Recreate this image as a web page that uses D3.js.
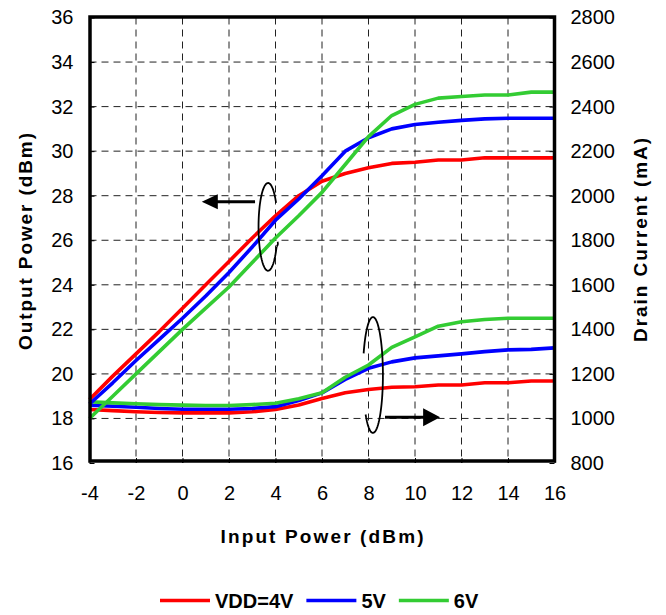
<!DOCTYPE html>
<html>
<head>
<meta charset="utf-8">
<script src="https://cdn.jsdelivr.net/npm/d3@7"></script>
<style>
  html, body { margin: 0; padding: 0; background: #fff; }
  svg { display: block; font-family: "Liberation Sans", Arial, sans-serif; }
</style>
</head>
<body>
<svg id="chart" width="666" height="615"></svg>
<script>
// ---------------- data ----------------
const inputPower = [-4,-3,-2,-1,0,1,2,3,4,5,6,7,8,9,10,11,12,13,14,15,16];

const poutVdd4 = [18.85,19.9,20.9,21.9,22.95,24.0,25.05,26.1,27.1,28.0,28.65,29.0,29.25,29.45,29.5,29.6,29.6,29.7,29.7,29.7,29.7];
const poutVdd5 = [18.65,19.6,20.6,21.55,22.5,23.5,24.55,25.7,26.9,27.85,28.9,30.0,30.6,31.0,31.2,31.3,31.38,31.45,31.48,31.48,31.48];
const poutVdd6 = [18.0,19.0,20.0,21.0,22.0,22.95,23.9,25.0,26.1,27.1,28.15,29.4,30.65,31.6,32.1,32.38,32.45,32.52,32.52,32.65,32.65];

const idVdd4 = [1040,1035,1030,1027,1025,1025,1025,1030,1040,1060,1090,1115,1130,1140,1142,1150,1150,1160,1160,1168,1168];
const idVdd5 = [1060,1055,1050,1045,1041,1041,1041,1045,1053,1080,1115,1175,1225,1254,1272,1281,1290,1300,1308,1310,1317];
const idVdd6 = [1075,1070,1066,1062,1060,1058,1058,1062,1068,1088,1115,1185,1240,1319,1366,1414,1434,1444,1450,1450,1450];

const seriesNames = ["VDD=4V","5V","6V"];
const seriesColors = ["#ff0000","#0000ff","#33cc33"];

const xTicks = [-4,-2,0,2,4,6,8,10,12,14,16];
const yLeftTicks = [16,18,20,22,24,26,28,30,32,34,36];
const yRightTicks = [800,1000,1200,1400,1600,1800,2000,2200,2400,2600,2800];

// annotation anchors (data units)
const leftEllipse = {x: 3.68, y: 26.6, rxDb: 0.41, ryDb: 1.97};      // output-power group
const leftArrow = {x1: 3.12, x2: 0.83, y: 27.73};
const rightEllipse = {x: 8.19, y: 1195, rxDb: 0.43, ryMa: 260};      // drain-current group
const rightArrow = {x1: 8.71, x2: 11.08, y: 1005};

// ---------------- layout ----------------
const svg = d3.select("#chart");
const X0 = 89.5, X1 = 554.5, Y0 = 17.5, Y1 = 463;

const x = d3.scaleLinear().domain([-4,16]).range([X0, X1]);
const yL = d3.scaleLinear().domain([16,36]).range([Y1, Y0]);
const yR = d3.scaleLinear().domain([800,2800]).range([Y1, Y0]);

// grid
const grid = svg.append("g");
grid.selectAll("line.v").data(xTicks.slice(1,-1)).enter().append("line")
  .attr("x1", d => x(d)).attr("x2", d => x(d))
  .attr("y1", Y0).attr("y2", Y1)
  .attr("stroke", "#222").attr("stroke-width", 1).attr("stroke-dasharray", "7,5");
grid.selectAll("line.h").data(yLeftTicks.slice(1,-1)).enter().append("line")
  .attr("x1", X0).attr("x2", X1)
  .attr("y1", d => yL(d)).attr("y2", d => yL(d))
  .attr("stroke", "#222").attr("stroke-width", 1).attr("stroke-dasharray", "7,5");

// axes (ticks inward, labels plain integers with ASCII hyphen)
const fmt = d => String(d);
const axL = d3.axisLeft(yL).tickValues(yLeftTicks).tickFormat(fmt).tickSize(-5).tickPadding(16);
const axR = d3.axisRight(yR).tickValues(yRightTicks).tickFormat(fmt).tickSize(-5).tickPadding(16);
const axB = d3.axisBottom(x).tickValues(xTicks).tickFormat(fmt).tickSize(-5).tickPadding(23);

function styleAxis(g) {
  g.select(".domain").remove();
  g.selectAll(".tick line").attr("stroke", "#000").attr("stroke-width", 1);
  g.selectAll(".tick text").attr("font-size", 20).attr("fill", "#000")
    .attr("font-family", "'Liberation Sans', Arial, sans-serif");
}
svg.append("g").attr("transform", `translate(${X0},0)`).call(axL).call(styleAxis);
svg.append("g").attr("transform", `translate(${X1},0)`).call(axR).call(styleAxis);
svg.append("g").attr("transform", `translate(0,${Y1})`).call(axB).call(styleAxis);

// lines
const outSeries = [poutVdd4, poutVdd5, poutVdd6];
const idSeries = [idVdd4, idVdd5, idVdd6];
const lineL = d3.line().x((d,i) => x(inputPower[i])).y(d => yL(d));
const lineR = d3.line().x((d,i) => x(inputPower[i])).y(d => yR(d));

const plot = svg.append("g");
[0,1,2].forEach(k => {
  plot.append("path").datum(idSeries[k]).attr("d", lineR)
    .attr("fill", "none").attr("stroke", seriesColors[k]).attr("stroke-width", 3.6)
    .attr("stroke-linejoin", "round");
});
[0,1,2].forEach(k => {
  plot.append("path").datum(outSeries[k]).attr("d", lineL)
    .attr("fill", "none").attr("stroke", seriesColors[k]).attr("stroke-width", 3.6)
    .attr("stroke-linejoin", "round");
});

// frame
svg.append("rect").attr("x", X0 + 0.5).attr("y", Y0 - 0.5)
  .attr("width", X1 - X0 - 0.5).attr("height", Y1 - Y0 - 1.5)
  .attr("fill", "none").attr("stroke", "#000").attr("stroke-width", 3.5);

// annotations
function ellipseArc(cx, cy, rx, ry, a0, a1) {
  const pts = [];
  const n = 80;
  for (let i = 0; i <= n; i++) {
    const t = (a0 + (a1 - a0) * i / n) * Math.PI / 180;
    pts.push([cx + rx * Math.cos(t), cy + ry * Math.sin(t)]);
  }
  return d3.line()(pts);
}
const ann = svg.append("g").attr("fill", "none").attr("stroke", "#000");
{
  const cx = x(leftEllipse.x), cy = yL(leftEllipse.y);
  const rx = x(leftEllipse.x + leftEllipse.rxDb) - cx;
  const ry = yL(leftEllipse.y - leftEllipse.ryDb) - cy;
  ann.append("path").attr("d", ellipseArc(cx, cy, rx, ry, -33, -333)).attr("stroke-width", 1.8);
  ann.append("path").attr("d", `M${cx + rx*0.9},${cy + ry*0.45} q 2,-2 1,-5`).attr("stroke-width", 1.6);
  const ax1 = x(leftArrow.x1), ax2 = x(leftArrow.x2), ay = yL(leftArrow.y);
  ann.append("line").attr("x1", ax1).attr("x2", ax2 + 14).attr("y1", ay).attr("y2", ay).attr("stroke-width", 3);
  svg.append("path").attr("d", `M${ax2},${ay} L${ax2 + 16},${ay - 7.5} L${ax2 + 16},${ay + 7.5} Z`).attr("fill", "#000");
}
{
  const cx = x(rightEllipse.x), cy = yR(rightEllipse.y);
  const rx = x(rightEllipse.x + rightEllipse.rxDb) - cx;
  const ry = yR(rightEllipse.y - rightEllipse.ryMa) - cy;
  ann.append("path").attr("d", ellipseArc(cx, cy, rx, ry, 202, 497)).attr("stroke-width", 1.8);
  const ax1 = x(rightArrow.x1), ax2 = x(rightArrow.x2), ay = yR(rightArrow.y);
  ann.append("line").attr("x1", ax1).attr("x2", ax2 - 14).attr("y1", ay).attr("y2", ay).attr("stroke-width", 3);
  svg.append("path").attr("d", `M${ax2},${ay} L${ax2 - 17},${ay - 9} L${ax2 - 17},${ay + 9} Z`).attr("fill", "#000");
}

// axis titles
svg.append("text").text("Input Power (dBm)")
  .attr("x", 322).attr("y", 543).attr("text-anchor", "middle")
  .attr("font-size", 19).attr("font-weight", "bold")
  .attr("textLength", 203).attr("lengthAdjust", "spacing");
svg.append("text").text("Output Power (dBm)")
  .attr("transform", "translate(32,241.5) rotate(-90)").attr("text-anchor", "middle")
  .attr("font-size", 19).attr("font-weight", "bold")
  .attr("textLength", 217).attr("lengthAdjust", "spacing");
svg.append("text").text("Drain Current (mA)")
  .attr("transform", "translate(647,240) rotate(-90)").attr("text-anchor", "middle")
  .attr("font-size", 19).attr("font-weight", "bold")
  .attr("textLength", 204).attr("lengthAdjust", "spacing");

// legend
const legend = svg.append("g");
let lx = 160;
const ly = 600.5;
seriesNames.forEach((name, k) => {
  legend.append("line").attr("x1", lx).attr("x2", lx + 50).attr("y1", ly).attr("y2", ly)
    .attr("stroke", seriesColors[k]).attr("stroke-width", 3.6);
  const t = legend.append("text").text(name).attr("x", lx + 55).attr("y", ly + 7.5)
    .attr("font-size", 20).attr("font-weight", "bold");
  lx += 55 + t.node().getComputedTextLength() + 13;
});
</script>
</body>
</html>
